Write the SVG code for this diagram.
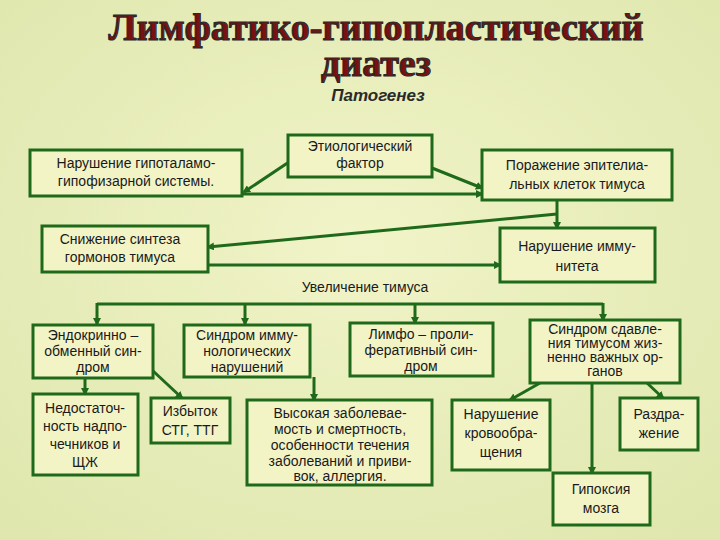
<svg xmlns="http://www.w3.org/2000/svg" width="720" height="540" viewBox="0 0 720 540">
<defs>
<radialGradient id="bg" cx="50%" cy="45%" r="70%"><stop offset="0" stop-color="#f1f4c8"/><stop offset="1" stop-color="#dfe7ae"/></radialGradient>
<marker id="ar" markerWidth="8" markerHeight="8" refX="6" refY="4" orient="auto" markerUnits="userSpaceOnUse"><path d="M0,0 L8,4 L0,8 z" fill="#1f6a1a"/></marker>
<style>
.b{fill:#f3f4c6;stroke:#1f6a1a;stroke-width:3}
.t{font-family:"Liberation Sans",Arial,sans-serif;font-size:14px;fill:#1a1a1a;text-anchor:middle}
.c{fill:none;stroke:#1f6a1a;stroke-width:3}
.a{marker-end:url(#ar)}
.h{font-family:"Liberation Serif",serif;font-weight:bold;font-size:38px;text-anchor:middle;fill:#7a1010;stroke:#2a2a2a;stroke-width:1.2}
</style>
</defs>
<rect width="720" height="540" fill="url(#bg)"/>
<g id="title">
<text class="h" x="376" y="40">Лимфатико-гипопластический</text>
<text class="h" x="376" y="76">диатез</text>
<text x="378" y="101" font-family="Liberation Sans,Arial,sans-serif" font-size="17" font-style="italic" font-weight="bold" fill="#2a2a2a" text-anchor="middle">Патогенез</text>
</g>
<g id="connectors">
<line class="c a" x1="292" y1="160" x2="244" y2="192"/>
<line class="c a" x1="432" y1="168" x2="482" y2="188"/>
<line class="c a" x1="242" y1="194" x2="482" y2="194"/>
<polyline class="c a" points="557,200 557,214 557,228"/>
<line class="c a" x1="557" y1="214" x2="208" y2="247"/>
<line class="c a" x1="208" y1="265" x2="500" y2="265"/>
<polyline class="c" points="97,304 603,304"/>
<line class="c a" x1="97" y1="303" x2="97" y2="324"/>
<line class="c a" x1="245" y1="303" x2="245" y2="324"/>
<line class="c a" x1="415" y1="303" x2="415" y2="323"/>
<line class="c a" x1="603" y1="303" x2="603" y2="320"/>
<line class="c a" x1="85" y1="378" x2="85" y2="394"/>
<line class="c a" x1="152" y1="370" x2="182" y2="398"/>
<line class="c a" x1="314" y1="377" x2="314" y2="400"/>
<line class="c a" x1="540" y1="383" x2="510" y2="400"/>
<line class="c a" x1="592" y1="383" x2="592" y2="473"/>
<line class="c a" x1="647" y1="383" x2="663" y2="398"/>
</g>
<g id="n1"><rect class="b" x="288" y="135" width="144" height="42"/><text class="t" x="360" y="151">Этиологический</text><text class="t" x="360" y="168">фактор</text></g>
<g id="n2"><rect class="b" x="30" y="150" width="212" height="46"/><text class="t" x="136" y="168">Нарушение гипоталамо-</text><text class="t" x="136" y="186">гипофизарной системы.</text></g>
<g id="n3"><rect class="b" x="482" y="150" width="190" height="50"/><text class="t" x="577" y="170">Поражение эпителиа-</text><text class="t" x="577" y="189">льных клеток тимуса</text></g>
<g id="n4"><rect class="b" x="42" y="226" width="166" height="46"/><text class="t" x="120" y="244">Снижение синтеза</text><text class="t" x="120" y="262">гормонов тимуса</text></g>
<g id="n5"><rect class="b" x="500" y="228" width="155" height="54"/><text class="t" x="577" y="251">Нарушение имму-</text><text class="t" x="577" y="271">нитета</text></g>
<g id="n6"><text class="t" x="365" y="292" font-size="15">Увеличение тимуса</text></g>
<g id="n7"><rect class="b" x="33" y="325" width="120" height="53"/><text class="t" x="93" y="340">Эндокринно –</text><text class="t" x="93" y="356">обменный син-</text><text class="t" x="93" y="372">дром</text></g>
<g id="n8"><rect class="b" x="184" y="325" width="126" height="52"/><text class="t" x="247" y="340">Синдром имму-</text><text class="t" x="247" y="356">нологических</text><text class="t" x="247" y="372">нарушений</text></g>
<g id="n9"><rect class="b" x="350" y="323" width="143" height="53"/><text class="t" x="421" y="339">Лимфо – проли-</text><text class="t" x="421" y="355">феративный син-</text><text class="t" x="421" y="371">дром</text></g>
<g id="n10"><rect class="b" x="530" y="320" width="150" height="63"/><text class="t" x="605" y="334">Синдром сдавле-</text><text class="t" x="605" y="348">ния тимусом жиз-</text><text class="t" x="605" y="362">ненно важных ор-</text><text class="t" x="605" y="376">ганов</text></g>
<g id="n11"><rect class="b" x="33" y="394" width="105" height="81"/><text class="t" x="85" y="413">Недостаточ-</text><text class="t" x="85" y="431">ность надпо-</text><text class="t" x="85" y="449">чечников и</text><text class="t" x="85" y="467">ЩЖ</text></g>
<g id="n12"><rect class="b" x="151" y="398" width="79" height="45"/><text class="t" x="190" y="416">Избыток</text><text class="t" x="190" y="435">СТГ, ТТГ</text></g>
<g id="n13"><rect class="b" x="247" y="400" width="185" height="85"/><text class="t" x="340" y="418">Высокая заболевае-</text><text class="t" x="340" y="434">мость и смертность,</text><text class="t" x="340" y="450">особенности течения</text><text class="t" x="340" y="466">заболеваний и приви-</text><text class="t" x="340" y="481">вок, аллергия.</text></g>
<g id="n14"><rect class="b" x="452" y="400" width="98" height="70"/><text class="t" x="501" y="419">Нарушение</text><text class="t" x="501" y="438">кровообра-</text><text class="t" x="501" y="457">щения</text></g>
<g id="n15"><rect class="b" x="620" y="398" width="78" height="52"/><text class="t" x="659" y="419">Раздра-</text><text class="t" x="659" y="438">жение</text></g>
<g id="n16"><rect class="b" x="553" y="473" width="97" height="52"/><text class="t" x="601" y="494">Гипоксия</text><text class="t" x="601" y="513">мозга</text></g>
</svg>
